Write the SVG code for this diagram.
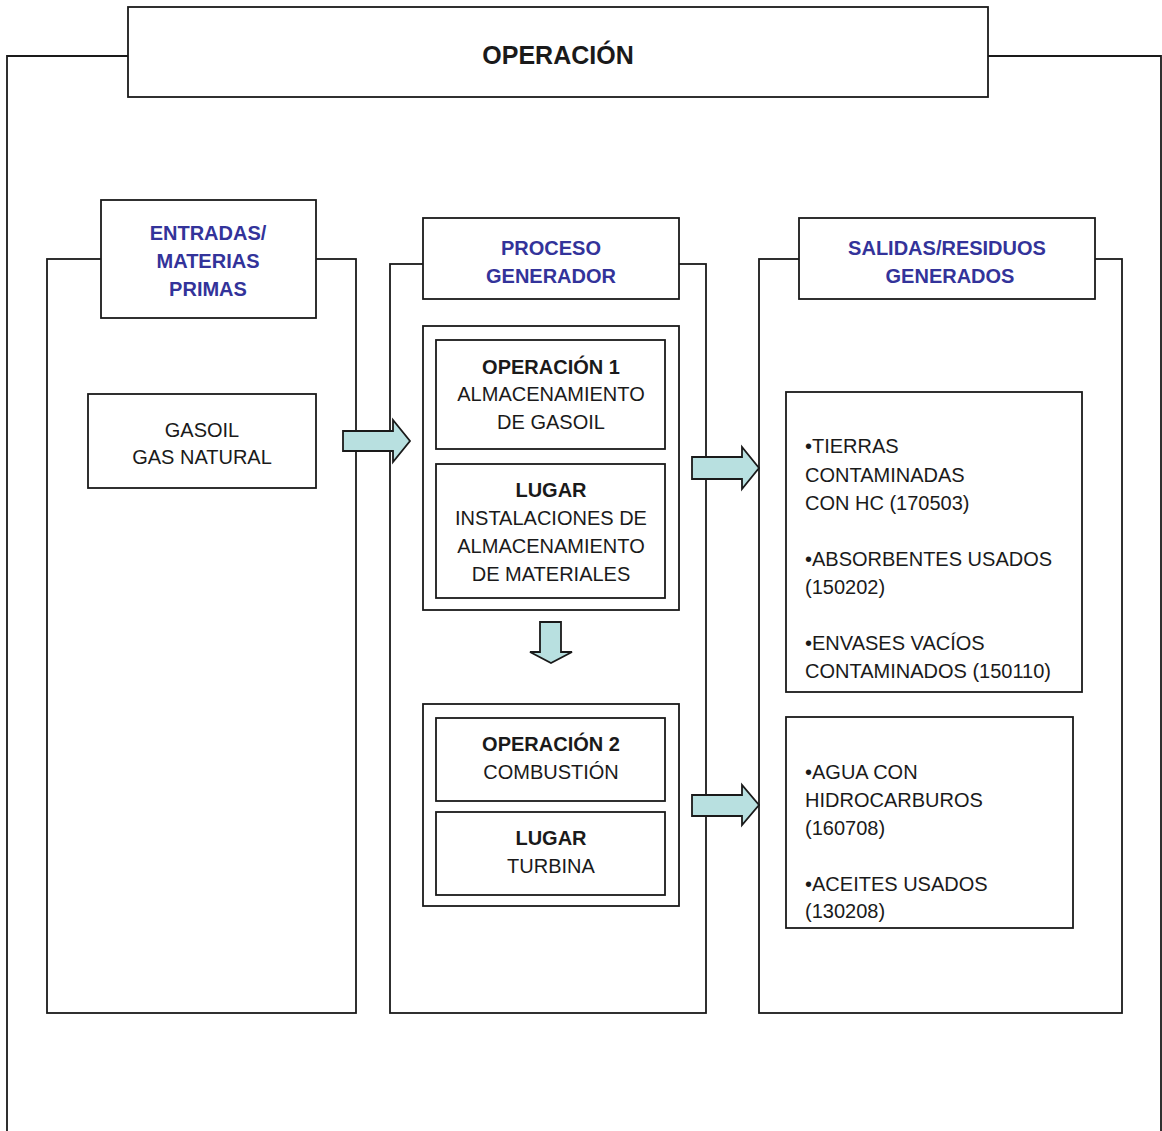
<svg xmlns="http://www.w3.org/2000/svg" width="1162" height="1131" viewBox="0 0 1162 1131">
<style>
.b{fill:#fff;stroke:#1a1a1a;stroke-width:1.8}
.ln{fill:none;stroke:#1a1a1a;stroke-width:1.8}
.ar{fill:#b8e0e0;stroke:#1a1a1a;stroke-width:1.8;stroke-linejoin:miter}
text{font-family:"Liberation Sans",Arial,sans-serif;font-size:20px;fill:#1a1a1a}
.c{text-anchor:middle}
.h{font-weight:bold;fill:#33339a}
.k{font-weight:bold}
</style>
<rect width="1162" height="1131" fill="#fff"/>
<g id="frame">
<polyline class="ln" points="128,56 7,56 7,1131"/>
<polyline class="ln" points="988,56 1161,56 1161,1131"/>
</g>
<g id="title">
<rect class="b" x="128" y="7" width="860" height="90"/>
<text class="c k" x="558" y="64" style="font-size:25px">OPERACIÓN</text>
</g>
<g id="col-entradas">
<rect class="b" x="47" y="259" width="309" height="754"/>
<rect class="b" x="101" y="200" width="215" height="118"/>
<text class="c h" x="208" y="240">ENTRADAS/</text>
<text class="c h" x="208" y="268">MATERIAS</text>
<text class="c h" x="208" y="296">PRIMAS</text>
</g>
<g id="col-proceso">
<rect class="b" x="390" y="264" width="316" height="749"/>
<rect class="b" x="423" y="218" width="256" height="81"/>
<text class="c h" x="551" y="255">PROCESO</text>
<text class="c h" x="551" y="283">GENERADOR</text>
</g>
<g id="col-salidas">
<rect class="b" x="759" y="259" width="363" height="754"/>
<rect class="b" x="799" y="218" width="296" height="81"/>
<text class="c h" x="947" y="255">SALIDAS/RESIDUOS</text>
<text class="c h" x="950" y="283">GENERADOS</text>
</g>
<g id="entradas">
<rect class="b" x="88" y="394" width="228" height="94"/>
<text class="c" x="202" y="437">GASOIL</text>
<text class="c" x="202" y="464">GAS NATURAL</text>
</g>
<g id="operacion1">
<rect class="b" x="423" y="326" width="256" height="284"/>
<rect class="b" x="436" y="340" width="229" height="109"/>
<text class="c k" x="551" y="374">OPERACIÓN 1</text>
<text class="c" x="551" y="401">ALMACENAMIENTO</text>
<text class="c" x="551" y="429">DE GASOIL</text>
<rect class="b" x="436" y="464" width="229" height="134"/>
<text class="c k" x="551" y="497">LUGAR</text>
<text class="c" x="551" y="525">INSTALACIONES DE</text>
<text class="c" x="551" y="553">ALMACENAMIENTO</text>
<text class="c" x="551" y="581">DE MATERIALES</text>
</g>
<g id="operacion2">
<rect class="b" x="423" y="704" width="256" height="202"/>
<rect class="b" x="436" y="718" width="229" height="83"/>
<text class="c k" x="551" y="751">OPERACIÓN 2</text>
<text class="c" x="551" y="779">COMBUSTIÓN</text>
<rect class="b" x="436" y="812" width="229" height="83"/>
<text class="c k" x="551" y="845">LUGAR</text>
<text class="c" x="551" y="873">TURBINA</text>
</g>
<g id="residuos1">
<rect class="b" x="786" y="392" width="296" height="300"/>
<text x="805" y="453">•TIERRAS</text>
<text x="805" y="482">CONTAMINADAS</text>
<text x="805" y="510">CON HC (170503)</text>
<text x="805" y="566">•ABSORBENTES USADOS</text>
<text x="805" y="594">(150202)</text>
<text x="805" y="650">•ENVASES VACÍOS</text>
<text x="805" y="678">CONTAMINADOS (150110)</text>
</g>
<g id="residuos2">
<rect class="b" x="786" y="717" width="287" height="211"/>
<text x="805" y="779">•AGUA CON</text>
<text x="805" y="807">HIDROCARBUROS</text>
<text x="805" y="835">(160708)</text>
<text x="805" y="891">•ACEITES USADOS</text>
<text x="805" y="918">(130208)</text>
</g>
<g id="connectors">
<polygon class="ar" points="343,431 393,431 393,420 410,441 393,462 393,451 343,451"/>
<polygon class="ar" points="692,457 742,457 742,447 759,468 742,489 742,479 692,479"/>
<polygon class="ar" points="692,795 742,795 742,785 759,805 742,825 742,816 692,816"/>
<polygon class="ar" points="540,622 561,622 561,652 572,652 551,663 530,652 540,652"/>
</g>
</svg>
